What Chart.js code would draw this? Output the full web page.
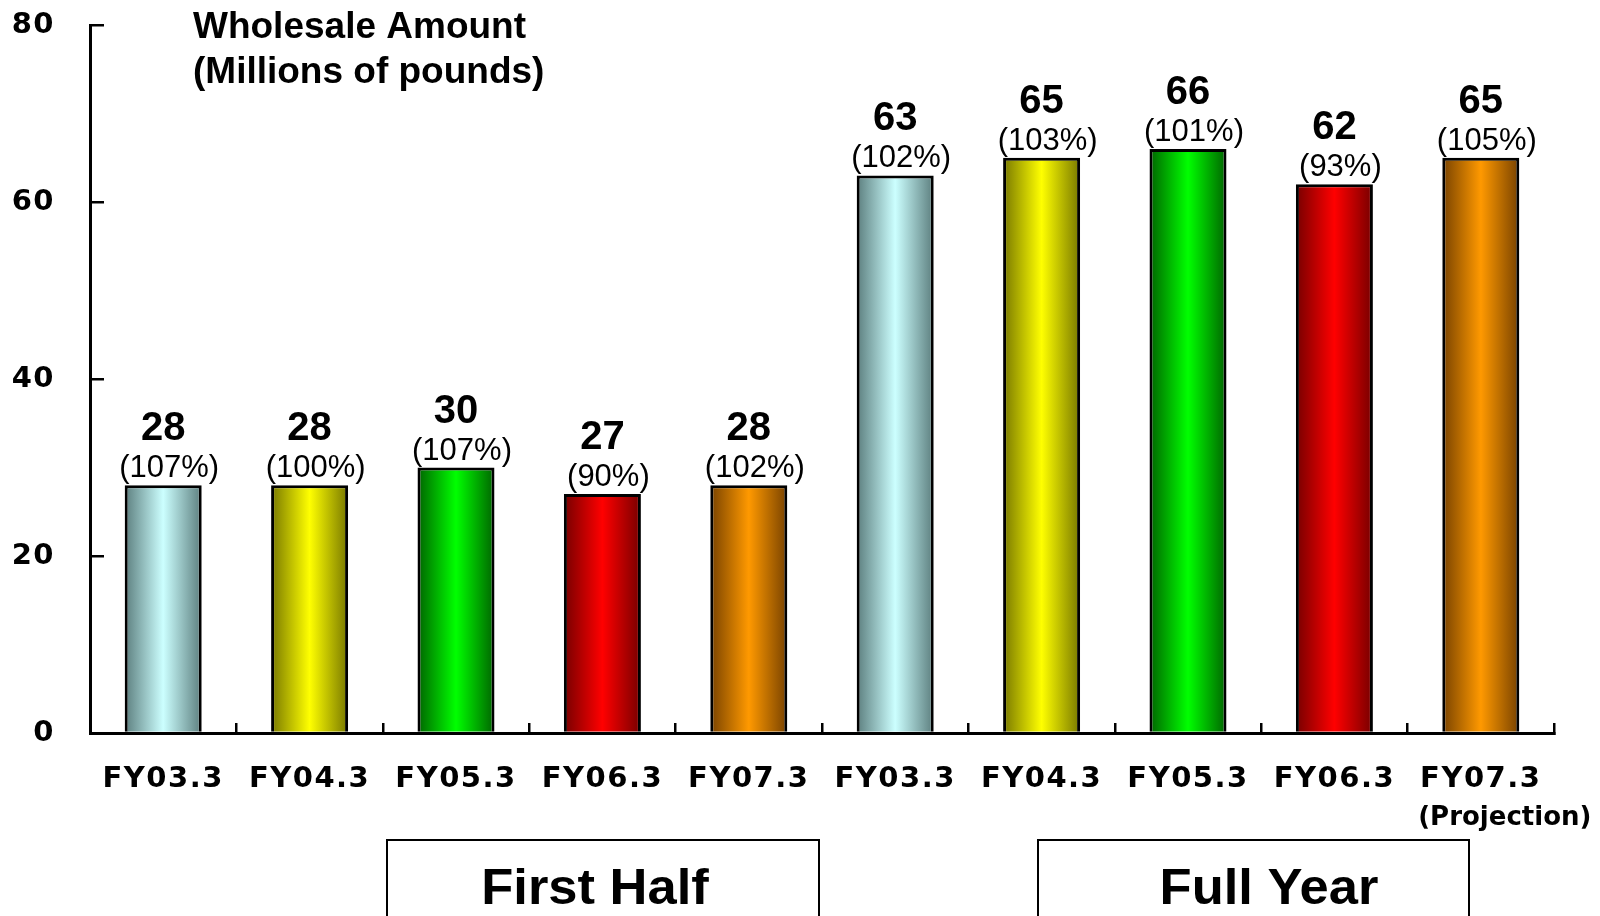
<!DOCTYPE html>
<html lang="en">
<head>
  <meta charset="UTF-8">
  <title>Wholesale Amount</title>
  <script src="https://cdn.jsdelivr.net/npm/chart.js"></script>
  <style>
    html, body { margin: 0; padding: 0; background: #fff; }
    #chart { display: block; }
  </style>
</head>
<body>
  <canvas id="chart" width="1600" height="916"></canvas>

  <script>
    // Data: first half (5 years) followed by full year (5 years)
    const periods = ['FY03.3', 'FY04.3', 'FY05.3', 'FY06.3', 'FY07.3',
                     'FY03.3', 'FY04.3', 'FY05.3', 'FY06.3', 'FY07.3'];
    const wholesale = [28, 28, 30, 27, 28, 63, 65, 66, 62, 65];
    const yoyPercent = ['107%', '100%', '107%', '90%', '102%',
                        '102%', '103%', '101%', '93%', '105%'];
    const yTicks = [0, 20, 40, 60, 80];
    const groupNames = ['First Half', 'Full Year'];
    const projectionNote = '(Projection)';
    const titleLines = ['Wholesale Amount', '(Millions of pounds)'];

    // edge colour / centre colour for the cylinder-like shading of each year
    const barShades = [
      ['#5c7e7e', '#ccffff'],
      ['#787800', '#ffff00'],
      ['#006400', '#00ff00'],
      ['#760000', '#ff0000'],
      ['#784200', '#ff9900']
    ];

    const BAR_PCT = 0.526;
    const AXIS_FONT = { family: '"DejaVu Sans", sans-serif', weight: 'bold', size: 29 };

    // horizontal gradient across each bar, dark at both edges
    function barFill(c) {
      const shade = barShades[c.dataIndex % barShades.length];
      const chart = c.chart;
      const xs = chart.scales.x;
      if (!chart.chartArea || !xs || c.dataIndex === undefined) return shade[1];
      const cx = xs.getPixelForValue(c.dataIndex);
      const half = (xs.width / periods.length) * BAR_PCT / 2;
      const g = chart.ctx.createLinearGradient(cx - half, 0, cx + half, 0);
      g.addColorStop(0, shade[0]);
      g.addColorStop(0.5, shade[1]);
      g.addColorStop(1, shade[0]);
      return g;
    }

    // axis labels in the original are drawn wide, so space the letters a little
    const axisSpacing = {
      id: 'axisSpacing',
      beforeDraw(chart) { chart.ctx.letterSpacing = '1.5px'; },
      beforeDatasetsDraw(chart) { chart.ctx.letterSpacing = '0px'; }
    };

    // value + year-on-year percentage above every bar
    const barLabels = {
      id: 'barLabels',
      afterDatasetsDraw(chart) {
        const ctx = chart.ctx;
        const meta = chart.getDatasetMeta(0);
        ctx.save();
        ctx.fillStyle = '#000';
        ctx.textAlign = 'center';
        ctx.textBaseline = 'alphabetic';
        meta.data.forEach((bar, i) => {
          ctx.font = '31px "Liberation Sans", Arial, sans-serif';
          ctx.fillText('(' + yoyPercent[i] + ')', bar.x + 6, bar.y - 8);
          ctx.font = 'bold 40px "Liberation Sans", Arial, sans-serif';
          ctx.fillText(String(wholesale[i]), bar.x, bar.y - 45);
        });
        ctx.restore();
      }
    };

    // title, projection note and the two period boxes
    const annotations = {
      id: 'annotations',
      afterDraw(chart) {
        const ctx = chart.ctx;
        const xs = chart.scales.x;
        ctx.save();
        ctx.fillStyle = '#000';

        ctx.font = 'bold 37px "Liberation Sans", Arial, sans-serif';
        ctx.textAlign = 'left';
        ctx.textBaseline = 'alphabetic';
        ctx.fillText(titleLines[0], 193, 38);
        ctx.fillText(titleLines[1], 193, 83);

        ctx.font = 'bold 26px "DejaVu Sans", sans-serif';
        ctx.textAlign = 'center';
        ctx.fillText(projectionNote, xs.getPixelForValue(periods.length - 1) + 24, 825);

        const boxes = [
          { left: 387, right: 819, textX: 595 },
          { left: 1038, right: 1469, textX: 1269 }
        ];
        ctx.strokeStyle = '#000';
        ctx.lineWidth = 2;
        ctx.font = 'bold 50px "Liberation Sans", Arial, sans-serif';
        boxes.forEach((b, i) => {
          ctx.strokeRect(b.left, 840, b.right - b.left, 200);
          ctx.save();
          ctx.translate(b.textX, 904);
          ctx.scale(1.05, 1);
          ctx.fillText(groupNames[i], 0, 0);
          ctx.restore();
        });
        ctx.restore();
      }
    };

    new Chart(document.getElementById('chart'), {
      type: 'bar',
      data: {
        labels: periods,
        datasets: [{
          data: wholesale,
          backgroundColor: barFill,
          borderColor: '#000',
          borderWidth: 3,
          barPercentage: BAR_PCT,
          categoryPercentage: 1.0
        }]
      },
      options: {
        responsive: false,
        animation: false,
        devicePixelRatio: 1,
        layout: { autoPadding: false, padding: { top: 25, right: 46, left: 0, bottom: 0 } },
        plugins: {
          legend: { display: false },
          tooltip: { enabled: false },
          title: { display: false }
        },
        scales: {
          x: {
            grid: { display: true, drawOnChartArea: false, offset: true, tickLength: -10, color: '#000', lineWidth: 2.5 },
            border: { display: true, color: '#000', width: 3 },
            ticks: { color: '#000', font: AXIS_FONT, padding: 39, maxRotation: 0, autoSkip: false },
            afterFit(s) { s.height = 916 - 733; }
          },
          y: {
            min: 0,
            max: 80,
            afterBuildTicks(s) { s.ticks = yTicks.map(v => ({ value: v })); },
            grid: { display: true, drawOnChartArea: false, tickLength: -14, color: '#000', lineWidth: 2.5 },
            border: { display: true, color: '#000', width: 3 },
            ticks: { color: '#000', font: AXIS_FONT, padding: 49 },
            afterFit(s) {
              s.width = 90;
              // keep the plot top pinned to the layout padding
              s.paddingTop = 0;
              s.paddingBottom = 0;
            }
          }
        }
      },
      plugins: [axisSpacing, barLabels, annotations]
    });
  </script>
</body>
</html>
